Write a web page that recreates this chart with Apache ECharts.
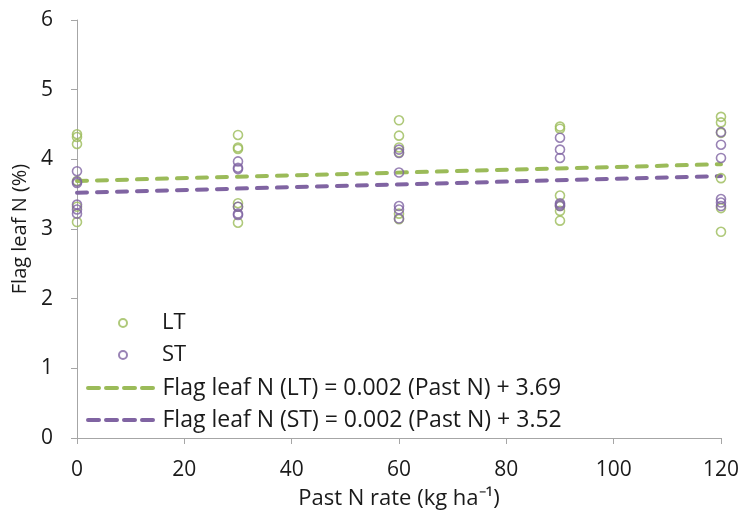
<!DOCTYPE html>
<html><head><meta charset="utf-8">
<script src="https://cdn.jsdelivr.net/npm/echarts@6/dist/echarts.min.js"></script>
<style>html,body{margin:0;padding:0;background:#fff}#c{width:742px;height:516px}</style>
</head><body><div id="c"></div>
<script>
const rates = [0, 30, 60, 90, 120];
const ltValues = [
  [4.36, 4.32, 4.22, 3.69, 3.32, 3.10],
  [4.35, 4.17, 4.15, 3.37, 3.32, 3.09],
  [4.56, 4.34, 4.17, 4.10, 3.22, 3.14],
  [4.47, 4.44, 3.48, 3.33, 3.26, 3.12],
  [4.61, 4.53, 4.38, 3.73, 3.30, 2.96]
];
const stValues = [
  [3.83, 3.68, 3.66, 3.35, 3.28, 3.22],
  [3.97, 3.88, 3.86, 3.32, 3.22, 3.20],
  [4.14, 4.09, 3.81, 3.33, 3.28, 3.15],
  [4.31, 4.14, 4.02, 3.37, 3.35, 3.33],
  [4.39, 4.21, 4.02, 3.43, 3.38, 3.33]
];
const ltSlope = 0.002, ltIntercept = 3.69;
const stSlope = 0.002, stIntercept = 3.52;
const trendX = [0, 120];
const ltName = 'LT', stName = 'ST';
const ltTrendName = 'Flag leaf N (LT) = 0.002 (Past N) + 3.69';
const stTrendName = 'Flag leaf N (ST) = 0.002 (Past N) + 3.52';
const xTitle = 'Past N rate (kg ha⁻¹)';
const yTitle = 'Flag leaf N (%)';

const green = '#9bbb59', purple = '#8064a2';
const font = 'Open Sans', txt = '#1a1a1a', axisCol = '#a6a6a6';
const dashIcon = 'path://M2,0H13A2,2,0,0,1,13,4H2A2,2,0,0,1,2,0Z M20,0H31A2,2,0,0,1,31,4H20A2,2,0,0,1,20,0Z M38,0H49A2,2,0,0,1,49,4H38A2,2,0,0,1,38,0Z M56,0H67A2,2,0,0,1,67,4H56A2,2,0,0,1,56,0Z';
function pts(vals){ const o=[]; vals.forEach((g,i)=>g.forEach(v=>o.push([rates[i], v]))); return o; }
function scatterLegend(name, top){
  return {data: [{name: name, icon: 'circle'}], left: 118, top: top, padding: 0, itemWidth: 8, itemHeight: 8,
    textStyle: {fontFamily: font, fontSize: 22, lineHeight: 24, color: txt, padding: [0,0,0,30]}};
}
function lineLegend(name, color, top){
  return {data: [{name: name, icon: dashIcon, itemStyle: {color: color, borderWidth: 0}}], left: 86, top: top, padding: 0,
    itemWidth: 70, itemHeight: 4,
    textStyle: {fontFamily: font, fontSize: 23, lineHeight: 24, color: txt, padding: [0,0,0,2]}};
}
const chart = echarts.init(document.getElementById('c'));
chart.setOption({
  animation: false,
  grid: {left: 77, right: 20, top: 20, bottom: 78},
  xAxis: {
    type: 'value', min: 0, max: 120, interval: 20,
    name: xTitle, nameLocation: 'middle', nameGap: 50,
    nameTextStyle: {fontFamily: font, fontSize: 22, color: txt},
    axisLine: {lineStyle: {color: axisCol}},
    axisTick: {show: true, length: 6, lineStyle: {color: axisCol}},
    axisLabel: {fontFamily: font, fontSize: 21, color: txt, margin: 22},
    splitLine: {show: false}
  },
  yAxis: {
    type: 'value', min: 0, max: 6, interval: 1,
    name: yTitle, nameLocation: 'middle', nameGap: 40,
    nameTextStyle: {fontFamily: font, fontSize: 20, color: txt},
    axisLine: {show: true, lineStyle: {color: axisCol}},
    axisTick: {show: true, length: 6, lineStyle: {color: axisCol}},
    axisLabel: {fontFamily: font, fontSize: 21, color: txt, margin: 24},
    splitLine: {show: false}
  },
  legend: [
    scatterLegend(ltName, 311),
    scatterLegend(stName, 343),
    lineLegend(ltTrendName, green, 376),
    lineLegend(stTrendName, purple, 408)
  ],
  series: [
    {name: ltName, type: 'scatter', data: pts(ltValues), symbol: 'circle', symbolSize: 9,
     itemStyle: {color: 'rgba(255,255,255,0)', borderColor: green, borderWidth: 1.6}, z: 3},
    {name: stName, type: 'scatter', data: pts(stValues), symbol: 'circle', symbolSize: 9,
     itemStyle: {color: 'rgba(255,255,255,0)', borderColor: purple, borderWidth: 1.6}, z: 3},
    {name: ltTrendName, type: 'line', data: trendX.map(x=>[x, ltIntercept + ltSlope*x]), symbol: 'none',
     lineStyle: {color: green, width: 4, type: [10, 10], cap: 'round'}, itemStyle: {color: green}, z: 2},
    {name: stTrendName, type: 'line', data: trendX.map(x=>[x, stIntercept + stSlope*x]), symbol: 'none',
     lineStyle: {color: purple, width: 4, type: [10, 10], cap: 'round'}, itemStyle: {color: purple}, z: 2}
  ]
});
</script></body></html>
